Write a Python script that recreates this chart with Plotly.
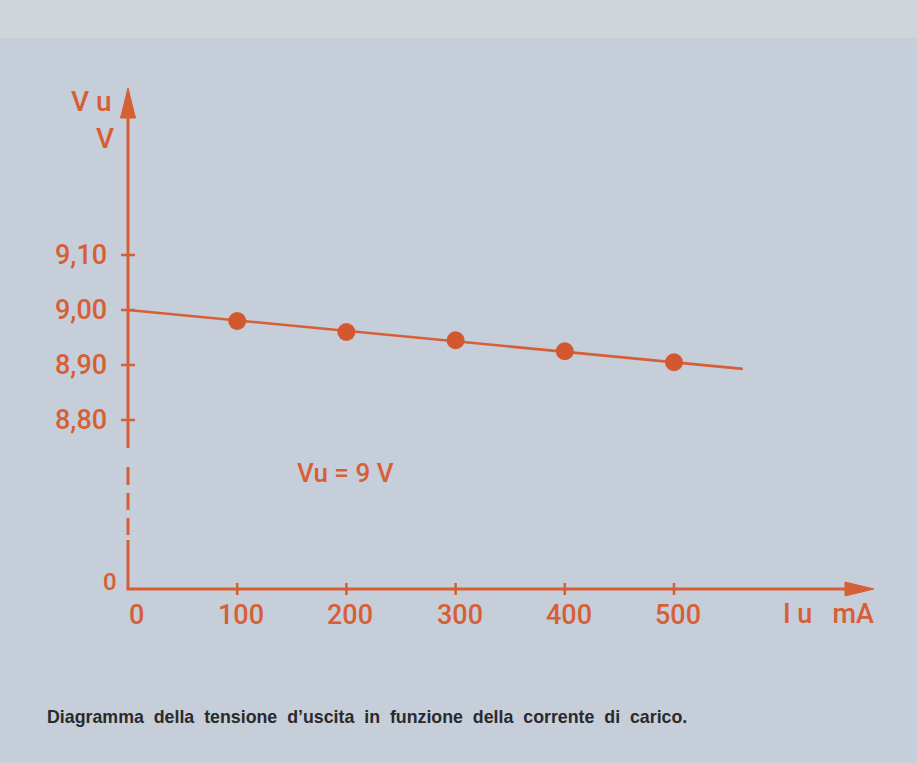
import plotly.graph_objects as go

# ---- data ----
current_mA = [100, 200, 300, 400, 500]
voltage_V = [8.98, 8.96, 8.945, 8.925, 8.905]
trend_mA = [0, 563]
trend_V = [9.00, 8.893]
y_tick_vals = [8.80, 8.90, 9.00, 9.10]
y_tick_text = ["8,80", "8,90", "9,00", "9,10"]
x_tick_vals = [0, 100, 200, 300, 400, 500]
x_tick_text = ["0", "100", "200", "300", "400", "500"]

# ---- geometry (pixel <-> data helpers for decorations) ----
W, H = 917, 763
L, R, T, B = 30, 10, 60, 113
X0PX, XS = 128.0, 1.092      # px of 0 mA, px per mA
V0, Y0PX, YS = 9.00, 310.0, 550.0  # 9.00 V at px 310, px per volt


def xd(px):
    return (px - X0PX) / XS


def yd(py):
    return V0 - (py - Y0PX) / YS


ORANGE = "#d65f36"
DOT = "#d4582f"
BG = "#c6ced9"
FONT = "Open Sans"

x_range = [xd(L), xd(W - R)]
y_range = [yd(H - B), yd(T)]
AXIS_V = yd(589)  # where the (broken) zero level sits
pw, ph = W - L - R, H - T - B

fig = go.Figure()
fig.add_trace(go.Scatter(x=trend_mA, y=trend_V, mode="lines",
                         line=dict(color=ORANGE, width=2.6), hoverinfo="skip"))
fig.add_trace(go.Scatter(x=current_mA, y=voltage_V, mode="markers",
                         marker=dict(color=DOT, size=18, line=dict(width=0))))

shapes = []
line_style = dict(color=ORANGE, width=3)
# lighter band at the top of the page
shapes.append(dict(type="rect", xref="paper", yref="paper", x0=-1, x1=2,
                   y0=(H - B - 38) / ph, y1=2, layer="below",
                   fillcolor="#d0d5da", line=dict(width=0)))
# vertical axis: lower solid, dashes, upper solid
for a, b in [(589, 540), (535, 518), (510, 493), (485, 467), (448, 116)]:
    shapes.append(dict(type="line", x0=0, x1=0, y0=yd(a), y1=yd(b), line=line_style))
# y arrow head
shapes.append(dict(type="path",
                   path=f"M {xd(X0PX-7.5)},{yd(118)} L {xd(X0PX)},{yd(88)} L {xd(X0PX+7.5)},{yd(118)} Z",
                   fillcolor=ORANGE, line=dict(color=ORANGE, width=1)))
# horizontal axis
shapes.append(dict(type="line", x0=xd(X0PX - 1.5), x1=xd(848), y0=AXIS_V, y1=AXIS_V, line=line_style))
shapes.append(dict(type="path",
                   path=f"M {xd(845)},{yd(582)} L {xd(874)},{yd(589)} L {xd(845)},{yd(596)} Z",
                   fillcolor=ORANGE, line=dict(color=ORANGE, width=1)))
# ticks
for v in x_tick_vals[1:]:
    shapes.append(dict(type="line", x0=v, x1=v, y0=yd(583), y1=yd(595), line=dict(color=ORANGE, width=2.5)))
for v in y_tick_vals:
    shapes.append(dict(type="line", x0=xd(121), x1=xd(135), y0=v, y1=v, line=dict(color=ORANGE, width=2.5)))


def ofont(size):
    return dict(family="Roboto, Open Sans", size=size, color=ORANGE, weight=500)


ann = []
for v, t in zip(y_tick_vals, y_tick_text):
    ann.append(dict(x=xd(109), y=v, text=t, showarrow=False, xanchor="right", yanchor="middle",
                    font=ofont(27)))
ann.append(dict(x=xd(119), y=yd(582), text="0", showarrow=False, xanchor="right", yanchor="middle",
                font=ofont(24)))
for v, t in zip(x_tick_vals, x_tick_text):
    ann.append(dict(x=v, y=yd(615), text=t, showarrow=False, xanchor="center", yanchor="middle",
                    xshift=4 if v else 8, font=ofont(27)))
ann.append(dict(x=xd(828), y=yd(614), text="I u&nbsp;&nbsp;&nbsp;mA", showarrow=False,
                xanchor="center", yanchor="middle", font=ofont(27)))
ann.append(dict(x=xd(91), y=yd(101), text="V u", showarrow=False, xanchor="center", yanchor="middle",
                font=ofont(28)))
ann.append(dict(x=xd(105), y=yd(138), text="V", showarrow=False, xanchor="center", yanchor="middle",
                font=ofont(28)))
ann.append(dict(x=xd(345), y=yd(473), text="Vu = 9 V", showarrow=False, xanchor="center", yanchor="middle",
                font=ofont(26)))
caption = "&nbsp;&nbsp;".join("Diagramma della tensione d’uscita in funzione della corrente di carico.".split(" "))
ann.append(dict(x=(45 - L) / pw, y=(H - B - 717) / ph, xref="paper", yref="paper",
                text="<b>" + caption + "</b>",
                showarrow=False, xanchor="left", yanchor="middle",
                font=dict(family="Liberation Sans", size=17.8, color="#2a2a2c")))

fig.update_layout(
    width=W, height=H, margin=dict(l=L, r=R, t=T, b=B),
    paper_bgcolor=BG, plot_bgcolor="rgba(0,0,0,0)",
    showlegend=False,
    xaxis=dict(range=x_range, visible=False, fixedrange=True),
    yaxis=dict(range=y_range, visible=False, fixedrange=True),
    shapes=shapes, annotations=ann,
)
fig.write_html("out.html", config={"displayModeBar": False},
               post_script="document.body.style.margin='0';document.body.style.background='%s';" % BG)
